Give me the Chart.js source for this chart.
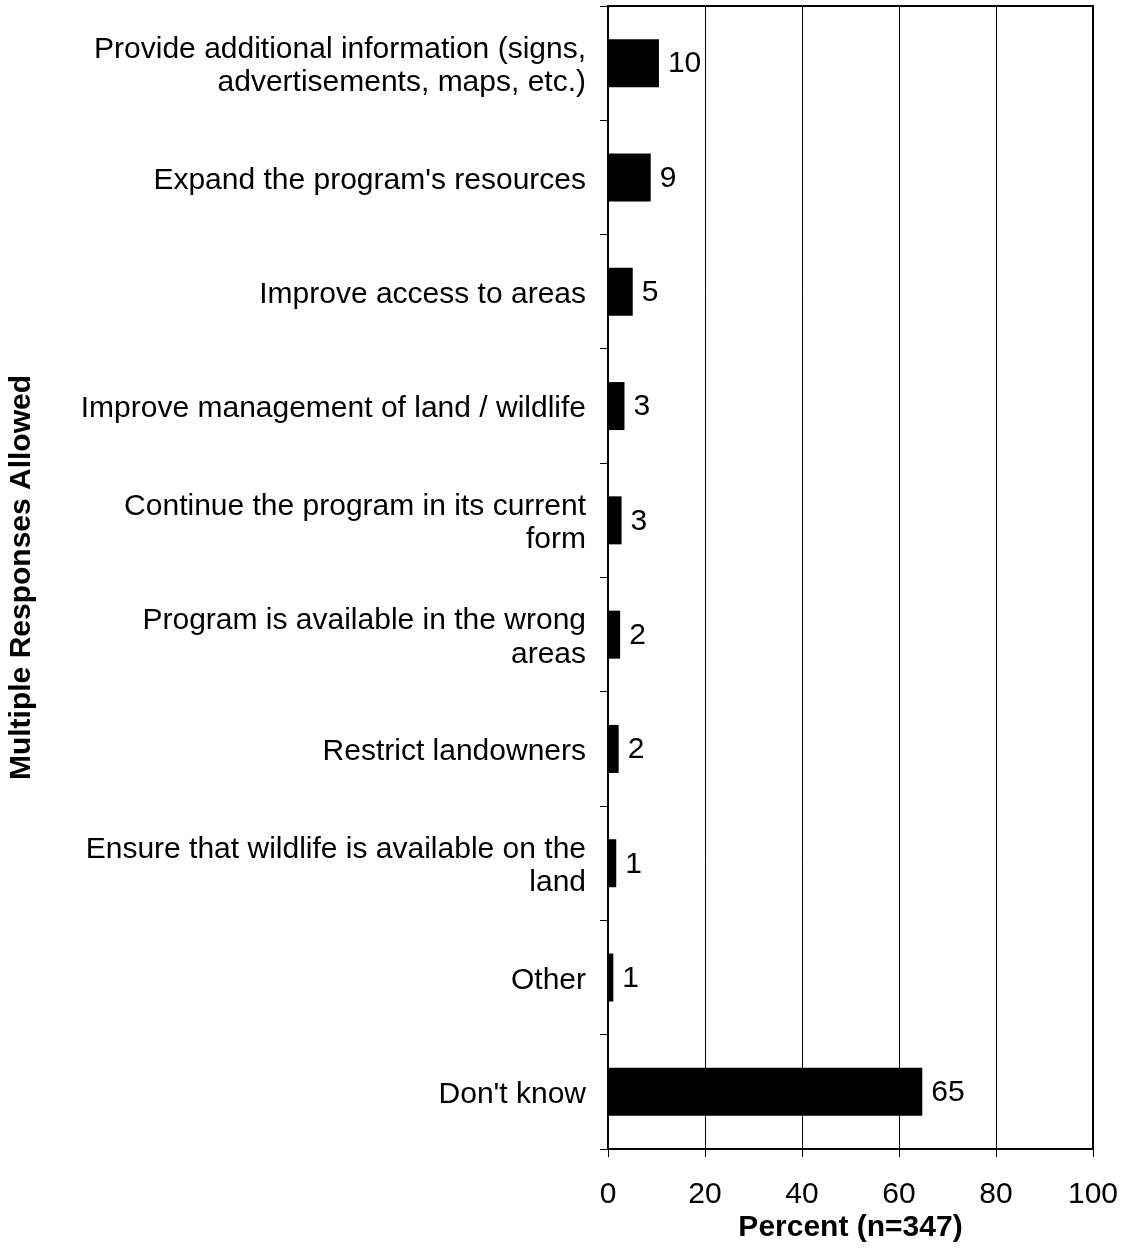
<!DOCTYPE html>
<html>
<head>
<meta charset="utf-8">
<script src="https://cdn.jsdelivr.net/npm/chart.js@4.4.1/dist/chart.umd.min.js"></script>
<style>
html,body{margin:0;padding:0;background:#fff;}
#wrap{width:1123px;height:1259px;position:relative;}
</style>
</head>
<body>
<div id="wrap"><canvas id="c" width="1123" height="1259"></canvas></div>
<script>
const categories = [
  ["Provide additional information (signs,", "advertisements, maps, etc.)"],
  "Expand the program's resources",
  "Improve access to areas",
  "Improve management of land / wildlife",
  ["Continue the program in its current", "form"],
  ["Program is available in the wrong", "areas"],
  "Restrict landowners",
  ["Ensure that wildlife is available on the", "land"],
  "Other",
  "Don't know"
];
const percentValues = [10.5, 8.8, 5.1, 3.4, 2.8, 2.5, 2.2, 1.7, 1.1, 64.8];
const valueLabels = ["10", "9", "5", "3", "3", "2", "2", "1", "1", "65"];
const xTicks = [0, 20, 40, 60, 80, 100];
const xTitle = "Percent (n=347)";
const yTitle = "Multiple Responses Allowed";

const FONT = "'Liberation Sans', Arial, sans-serif";

const valueLabelPlugin = {
  id: 'valueLabels',
  afterDatasetsDraw(chart) {
    const ctx = chart.ctx;
    const meta = chart.getDatasetMeta(0);
    ctx.save();
    ctx.font = "30px " + FONT;
    ctx.fillStyle = "#000";
    ctx.textAlign = "left";
    ctx.textBaseline = "middle";
    meta.data.forEach((bar, i) => {
      ctx.fillText(valueLabels[i], bar.x + 9, bar.y + 1);
    });
    ctx.restore();
  }
};

const framePlugin = {
  id: 'frame',
  afterDraw(chart) {
    const a = chart.chartArea;
    const ctx = chart.ctx;
    ctx.save();
    ctx.strokeStyle = "#000";
    ctx.lineWidth = 2;
    ctx.beginPath();
    ctx.moveTo(a.left, a.top);
    ctx.lineTo(a.right, a.top);
    ctx.lineTo(a.right, a.bottom);
    ctx.stroke();
    ctx.restore();
  }
};

function zeroPad(scale) {
  scale.paddingTop = 0; scale.paddingBottom = 0;
  scale.paddingLeft = 0; scale.paddingRight = 0;
}

new Chart(document.getElementById('c'), {
  type: 'bar',
  data: {
    labels: categories,
    datasets: [{
      data: percentValues,
      backgroundColor: '#000',
      borderWidth: 0,
      categoryPercentage: 1,
      barPercentage: 0.42
    }]
  },
  options: {
    indexAxis: 'y',
    responsive: false,
    animation: false,
    layout: { padding: { top: 6, right: 30, bottom: 13, left: 0 } },
    plugins: { legend: { display: false }, tooltip: { enabled: false } },
    scales: {
      x: {
        min: 0, max: 100,
        afterBuildTicks(scale) { scale.ticks = xTicks.map(v => ({ value: v })); },
        afterFit(scale) { scale.height = 97; zeroPad(scale); },
        grid: { color: '#000', lineWidth: 1, tickLength: 8, drawOnChartArea: true },
        border: { display: true, color: '#000', width: 2 },
        ticks: { color: '#000', font: { family: FONT, size: 30 }, padding: 20, maxRotation: 0 },
        title: { display: true, text: xTitle, color: '#000', font: { family: FONT, size: 30, weight: 'bold' }, padding: 0 }
      },
      y: {
        offset: true,
        afterFit(scale) { scale.width = 608; zeroPad(scale); },
        grid: { offset: true, color: '#000', lineWidth: 1, tickLength: 8, drawOnChartArea: false },
        border: { display: true, color: '#000', width: 2 },
        ticks: { color: '#000', font: { family: FONT, size: 30, lineHeight: 1.12 }, padding: 14, crossAlign: 'near', labelOffset: 3 },
        title: { display: true, text: yTitle, color: '#000', font: { family: FONT, size: 30, weight: 'bold' }, padding: { top: 4, bottom: 0 } }
      }
    }
  },
  plugins: [valueLabelPlugin, framePlugin]
});
</script>
</body>
</html>
